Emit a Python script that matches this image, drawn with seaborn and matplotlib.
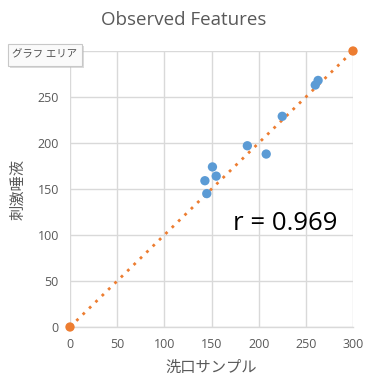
import matplotlib
matplotlib.use("Agg")
import matplotlib.pyplot as plt
import seaborn as sns
import pandas as pd
from matplotlib.patches import FancyBboxPatch

# Data
wash_sample = [143, 145, 151, 155, 188, 208, 225, 260, 263]
stim_saliva = [159, 145, 174, 164, 197, 188, 229, 263, 268]
ref_x = [0, 300]
ref_y = [0, 300]
ticks = [0, 50, 100, 150, 200, 250, 300]
x_tick_labels = ["0", "50", "100", "150", "200", "250", "300"]
y_tick_labels = ["0", "50", "100", "150", "200", "250", ""]  # 300 hidden by tooltip
title = "Observed Features"
xlabel = "洗口サンプル"
ylabel = "刺激唾液"
r_text = "r = 0.969"
tooltip = "グラフ エリア"

sns.set_theme(style="white")
plt.rcParams['font.family'] = ['Open Sans', 'Noto Sans CJK JP', 'DejaVu Sans']

fig = plt.figure(figsize=(3.66, 3.77), dpi=100)
ax = fig.add_axes([70/366, 1-327/377, (353-70)/366, (327-51)/377])

df = pd.DataFrame({"x": wash_sample, "y": stim_saliva})
ref = pd.DataFrame({"x": ref_x, "y": ref_y})

grid_c = "#D9D9D9"
text_c = "#595959"
blue = "#5B9BD5"
orange = "#ED7D31"

ax.plot(ref["x"], ref["y"], linestyle=(0, (1, 2.2)), color=orange, lw=2.0, zorder=2, clip_on=False)
sns.scatterplot(data=ref, x="x", y="y", ax=ax, color=orange, s=45, edgecolor="none", zorder=4, clip_on=False)
sns.scatterplot(data=df, x="x", y="y", ax=ax, color=blue, s=45, edgecolor="none", zorder=3, clip_on=False)

ax.set_xlim(0, 300)
ax.set_ylim(0, 300)
ax.set_xticks(ticks)
ax.set_xticklabels(x_tick_labels)
ax.set_yticks(ticks)
ax.set_yticklabels(y_tick_labels)
ax.grid(True, color=grid_c, lw=1.0)
ax.set_axisbelow(True)
for s in ["top", "right", "left"]:
    ax.spines[s].set_visible(False)
ax.spines["bottom"].set_color(grid_c)
ax.spines["bottom"].set_linewidth(1.0)
ax.tick_params(axis="both", length=0, labelsize=9, labelcolor=text_c, pad=8)

ax.set_xlabel(xlabel, fontsize=11, color=text_c, labelpad=7)
ax.set_ylabel(ylabel, fontsize=11, color=text_c, labelpad=8)

fig.text(184/366, 1-20/377, title, ha="center", va="center", fontsize=13.5, color=text_c)

ax.text(228, 112, r_text, ha="center", va="center", fontsize=18.5, color="black")

# tooltip box
fig.patches.append(FancyBboxPatch((10/366, 1-68/377), 74/366, 22/377,
                                  boxstyle="square,pad=0", transform=fig.transFigure,
                                  facecolor="#BBBBBB", edgecolor="none", alpha=0.5, zorder=5))
fig.patches.append(FancyBboxPatch((8/366, 1-66/377), 74/366, 22/377,
                                  boxstyle="square,pad=0", transform=fig.transFigure,
                                  facecolor="#FAFAFA", edgecolor="#C8C8C8", lw=0.8, zorder=6))
fig.text(44/366, 1-55/377, tooltip, ha="center", va="center", fontsize=7.5, color="#505050", zorder=7)

fig.savefig("out.png", dpi=100)
